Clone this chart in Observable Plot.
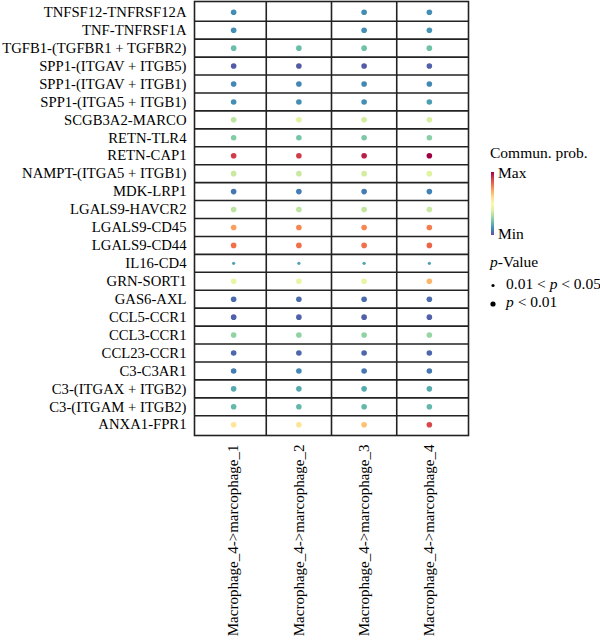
<!DOCTYPE html>
<html>
<head>
<meta charset="utf-8">
<script src="https://cdn.jsdelivr.net/npm/d3@7"></script>
<script src="https://cdn.jsdelivr.net/npm/@observablehq/plot@0.6"></script>
<style>
  body { margin: 0; background: #fff; }
  #wrap { position: relative; width: 600px; height: 642px; }
  #wrap svg { display: block; }
  #legend { position: absolute; left: 0; top: 0; pointer-events: none; }
</style>
</head>
<body>
<div id="wrap"></div>
<script>
// Ligand-receptor pairs (top to bottom)
const pairs = [
  "TNFSF12-TNFRSF12A", "TNF-TNFRSF1A", "TGFB1-(TGFBR1 + TGFBR2)",
  "SPP1-(ITGAV + ITGB5)", "SPP1-(ITGAV + ITGB1)", "SPP1-(ITGA5 + ITGB1)",
  "SCGB3A2-MARCO", "RETN-TLR4", "RETN-CAP1", "NAMPT-(ITGA5 + ITGB1)",
  "MDK-LRP1", "LGALS9-HAVCR2", "LGALS9-CD45", "LGALS9-CD44", "IL16-CD4",
  "GRN-SORT1", "GAS6-AXL", "CCL5-CCR1", "CCL3-CCR1", "CCL23-CCR1",
  "C3-C3AR1", "C3-(ITGAX + ITGB2)", "C3-(ITGAM + ITGB2)", "ANXA1-FPR1"
];

// Source -> target groups (left to right)
const groups = [
  "Macrophage_4->marcophage_1", "Macrophage_4->marcophage_2",
  "Macrophage_4->marcophage_3", "Macrophage_4->marcophage_4"
];

// Scaled communication probability (0 = min, 1 = max); null = not detected
const prob1 = [0.11, 0.11, 0.20, 0.02, 0.10, 0.11, 0.33, 0.24, 0.90, 0.35, 0.07, 0.33,
               0.72, 0.80, 0.15, 0.42, 0.05, 0.03, 0.26, 0.04, 0.08, 0.16, 0.19, 0.58];
const prob2 = [null, null, 0.20, 0.02, 0.10, 0.11, 0.40, 0.22, 0.90, 0.35, 0.08, 0.33,
               0.76, 0.80, 0.15, 0.42, 0.05, 0.03, 0.26, 0.04, 0.10, 0.16, 0.19, 0.58];
const prob3 = [0.11, 0.11, 0.21, 0.02, 0.10, 0.11, 0.37, 0.23, 0.95, 0.37, 0.08, 0.34,
               0.76, 0.80, 0.15, 0.42, 0.05, 0.03, 0.26, 0.04, 0.07, 0.16, 0.19, 0.66];
const prob4 = [0.11, 0.12, 0.21, 0.03, 0.10, 0.14, 0.38, 0.25, 1.00, 0.40, 0.09, 0.35,
               0.78, 0.82, 0.15, 0.68, 0.05, 0.03, 0.27, 0.04, 0.07, 0.16, 0.19, 0.88];

// Significance level of each pair
const pLevel = pairs.map(p => p === "IL16-CD4" ? "0.01<p<0.05" : "p<0.01");

const probs = [prob1, prob2, prob3, prob4];
const cells = [];
groups.forEach((g, j) => {
  pairs.forEach((p, i) => {
    const v = probs[j][i];
    if (v != null) cells.push({group: g, pair: p, xi: j + 1, yi: i + 1, prob: v, p: pLevel[i]});
  });
});

const serif = "'Liberation Serif', 'Times New Roman', serif";
const lineColor = "#222";

const chart = Plot.plot({
  width: 600,
  height: 642,
  marginLeft: 194,
  marginRight: 132,
  marginTop: 1,
  marginBottom: 207,
  x: {type: "linear", domain: [0.4, groups.length + 0.6]},
  y: {type: "linear", domain: [0.4, pairs.length + 0.6], reverse: true},
  color: {type: "linear", scheme: "spectral", reverse: true, domain: [0, 1]},
  style: {fontFamily: serif, color: "#000", background: "#fff"},
  marks: [
    Plot.ruleX(d3.range(1, groups.length).map(i => i + 0.5), {stroke: lineColor, strokeWidth: 1.6}),
    Plot.ruleY(d3.range(1, pairs.length).map(i => i + 0.5), {stroke: lineColor, strokeWidth: 1.6}),
    Plot.frame({stroke: lineColor, strokeWidth: 1.6}),
    Plot.dot(cells.filter(d => d.p === "p<0.01"), {x: "xi", y: "yi", fill: "prob", r: 2.8}),
    Plot.dot(cells.filter(d => d.p !== "p<0.01"), {x: "xi", y: "yi", fill: "prob", r: 1.6}),
    Plot.axisY({
      ticks: d3.range(1, pairs.length + 1),
      tickFormat: i => pairs[i - 1],
      tickSize: 0, tickPadding: 8, fontSize: 14.7, label: null
    }),
    Plot.axisX({
      ticks: d3.range(1, groups.length + 1),
      tickFormat: i => groups[i - 1],
      tickSize: 0, tickPadding: 9, tickRotate: -90, fontSize: 15, label: null
    })
  ]
});

const wrap = document.getElementById("wrap");
wrap.appendChild(chart);

// Legend: colour bar and p-value sizes
const leg = d3.select(wrap).append("svg")
  .attr("id", "legend")
  .attr("width", 600).attr("height", 642)
  .style("font-family", serif);

const grad = leg.append("defs").append("linearGradient")
  .attr("id", "probRamp").attr("x1", 0).attr("y1", 0).attr("x2", 0).attr("y2", 1);
d3.range(0, 1.0001, 0.1).forEach(t => {
  grad.append("stop").attr("offset", t).attr("stop-color", d3.interpolateSpectral(t));
});

leg.append("text").attr("x", 490).attr("y", 158).attr("font-size", 15.5).text("Commun. prob.");
leg.append("rect").attr("x", 491).attr("y", 172).attr("width", 3).attr("height", 63)
  .attr("fill", "url(#probRamp)");
leg.append("text").attr("x", 498).attr("y", 178).attr("font-size", 15.5).text("Max");
leg.append("text").attr("x", 498).attr("y", 239).attr("font-size", 15.5).text("Min");

const pv = leg.append("text").attr("x", 490).attr("y", 267).attr("font-size", 15.5);
pv.append("tspan").attr("font-style", "italic").text("p");
pv.append("tspan").text("-Value");

leg.append("circle").attr("cx", 493).attr("cy", 285.5).attr("r", 1.6).attr("fill", "#000");
const t1 = leg.append("text").attr("x", 506).attr("y", 289).attr("font-size", 15.5);
t1.append("tspan").text("0.01 < ");
t1.append("tspan").attr("font-style", "italic").text("p");
t1.append("tspan").text(" < 0.05");

leg.append("circle").attr("cx", 493).attr("cy", 304).attr("r", 2.6).attr("fill", "#000");
const t2 = leg.append("text").attr("x", 506).attr("y", 307).attr("font-size", 15.5);
t2.append("tspan").attr("font-style", "italic").text("p");
t2.append("tspan").text(" < 0.01");
</script>
</body>
</html>
